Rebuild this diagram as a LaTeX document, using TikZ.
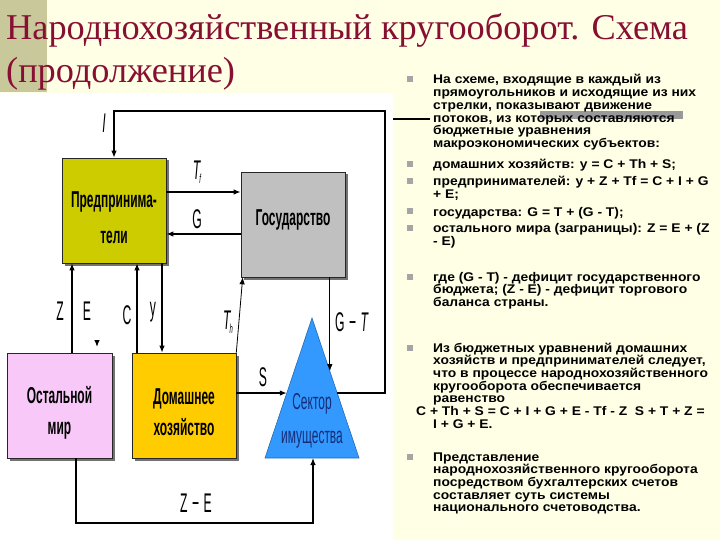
\documentclass[tikz,border=0pt]{standalone}
\usepackage{fontspec}
\setmainfont{Liberation Sans}
\newfontfamily\titlefont{Liberation Serif}
\newfontfamily\boxfont[FakeStretch=0.52]{Liberation Sans}
\newfontfamily\labfont[FakeStretch=0.45]{Liberation Sans}
\newfontfamily\txtfont[FakeStretch=1.1]{Liberation Sans}
\usetikzlibrary{arrows.meta,shadows,calc}
\definecolor{cream}{RGB}{255,255,230}
\definecolor{strip}{RGB}{200,200,155}
\definecolor{titlecol}{RGB}{135,15,50}
\definecolor{firmcol}{RGB}{204,204,0}
\definecolor{statecol}{RGB}{192,192,192}
\definecolor{worldcol}{RGB}{248,200,248}
\definecolor{homecol}{RGB}{255,204,0}
\definecolor{sectorcol}{RGB}{51,153,255}
\definecolor{sectortext}{RGB}{20,45,120}
\definecolor{bulletcol}{RGB}{165,165,165}

\begin{document}
\begin{tikzpicture}[x=1pt,y=-1pt,
    box/.style={draw=black!85,line width=0.6pt,minimum width=104pt,minimum height=105pt,inner sep=0pt,
        general shadow={fill=black!55,shadow xshift=2.5pt,shadow yshift=-2.5pt}},
    boxtext/.style={align=center,inner sep=0pt,font=\boxfont\bfseries\fontsize{23}{31}\selectfont},
    flow/.style={line width=1.2pt,-{Latex[length=7pt,width=5.5pt]}},
    lab/.style={font=\labfont\fontsize{27}{27}\selectfont,inner sep=0pt},
    head/.style={anchor=base west,inner sep=0pt,text=titlecol,font=\titlefont\fontsize{36.3}{36}\selectfont},
    txt/.style={anchor=base west,inner sep=0pt,font=\txtfont\bfseries\fontsize{12.6}{12.7}\selectfont},
    blt/.style={fill=bulletcol,minimum size=6pt,inner sep=0pt}]
\fill[cream] (0,0) rectangle (720,540);
\useasboundingbox (0,0) rectangle (720,540);
\fill[strip] (0,0) rectangle (47,92);
\fill[white] (0,93) rectangle (393,540);

\node[head] (title1) at (6,40) {Народнохозяйственный кругооборот. Схема};
\node[head] (title2) at (6,83) {(продолжение)};

\node[box,fill=firmcol,label={[boxtext,yshift=-7pt,font=\boxfont\bfseries\fontsize{23}{36}\selectfont]center:Предпринима-\\тели}] (firm) at (114,210.5) {};
\node[box,fill=statecol,label={[boxtext,yshift=5pt]center:Государство}] (state) at (293,224.5) {};
\node[box,fill=worldcol,minimum width=105pt,label={[boxtext,yshift=-7pt]center:Остальной\\мир}] (world) at (59.5,405.5) {};
\node[box,fill=homecol,label={[boxtext,yshift=-7pt]center:Домашнее\\хозяйство}] (home) at (184,405.5) {};

\coordinate (apex) at (312,318);
\coordinate (lc) at (265,458);
\coordinate (rc) at (359,458);
\filldraw[fill=sectorcol,draw=sectorcol!70!black,line width=0.6pt] (apex) -- (rc) -- (lc) -- cycle;
\node[boxtext,text=sectortext,font=\boxfont\fontsize{23}{34}\selectfont] (sector) at (312,421) {Сектор\\имущества};

\coordinate (s in) at ($(apex)!0.536!(lc)$);
\coordinate (i out) at ($(apex)!0.536!(rc)$);
\coordinate (gt in) at ($(apex)!0.38!(rc)$);
\coordinate (ne) at (385,111);
\coordinate (ze) at (313,523);
\coordinate (e tip) at (97,347);

\draw[flow] (i out) -| (ne) -| (firm.north);
\draw[flow,line width=2pt] ([yshift=18.5pt]firm.east) -- ([yshift=18.5pt]firm.east -| state.west);
\draw[flow,line width=2pt] ([yshift=-9.5pt]state.west) -- ([yshift=-9.5pt]state.west -| firm.east);
\draw[flow] ([xshift=12.5pt]world.north) -- ([xshift=12.5pt]world.north |- firm.south);
\draw[flow] ([xshift=-47pt]home.north) -- ([xshift=-47pt]home.north |- firm.south);
\draw[flow] ([xshift=48pt]firm.south) -- ([xshift=48pt]firm.south |- home.north);
\draw[flow] ([yshift=7pt]e tip) -- (e tip);
\draw[flow,line width=0.8pt] (home.north east) -- ([xshift=2pt]state.south west);
\draw[flow] (state.south -| gt in) -- (gt in);
\draw[flow] (s in -| home.east) -- (s in);
\draw[flow] ([xshift=16.5pt]world.south) |- (ze) -- (ze |- lc);

\node[lab] (l i) at (104,123) {\itshape I};
\node[lab] (l tf) at (197,172) {\itshape T\kern-1pt\raisebox{-4pt}{\fontsize{13}{13}\selectfont f}};
\node[lab] (l g) at (197,219) {G};
\node[lab] (l z) at (60,311) {Z};
\node[lab] (l e) at (87,311) {E};
\node[lab] (l c) at (127,315) {C};
\node[lab] (l y) at (153,312) {y};
\node[lab] (l th) at (228,322) {\itshape T\kern-1pt\raisebox{-4pt}{\fontsize{13}{13}\selectfont h}};
\node[lab] (l s) at (263,377) {S};
\node[lab] (l gt) at (352,322) {G\,−\,\textit{T}};
\node[lab] (l ze) at (196,503) {Z\,−\,E};

\draw[line width=1.3pt] (393,119) -- (430,119);
\fill[black!40] (540,111) rectangle (683,119);

\foreach \y [count=\k] in {84,169,186,216,233,281,352,461}
    \node[blt] (b\k) at (410,\y-4.5) {};
\foreach \t [count=\i from 0] in {{На схеме, входящие в каждый из},{прямоугольников и исходящие из них},
        {стрелки, показывают движение},{потоков, из которых составляются},{бюджетные уравнения},
        {макроэкономических субъектов:}}
    \node[txt] (pa\i) at (433,84+12.7*\i) {\t};
\node[txt] (pb0) at (433,169) {домашних хозяйств: y = C + Th + S;};
\foreach \t [count=\i from 0] in {{предпринимателей: y + Z + Tf = C + I + G},{+ E;}}
    \node[txt] (pc\i) at (433,186+12.7*\i) {\t};
\node[txt] (pd0) at (433,216) {государства: G = T + (G - T);};
\foreach \t [count=\i from 0] in {{остального мира (заграницы): Z = E + (Z},{- E)}}
    \node[txt] (pe\i) at (433,233+12.7*\i) {\t};
\foreach \t [count=\i from 0] in {{где (G - T) - дефицит государственного},{бюджета; (Z - E) - дефицит торгового},
        {баланса страны.}}
    \node[txt] (pf\i) at (433,281+12.7*\i) {\t};
\foreach \t [count=\i from 0] in {{Из бюджетных уравнений домашних},{хозяйств и предпринимателей следует,},
        {что в процессе народнохозяйственного},{кругооборота обеспечивается},{равенство}}
    \node[txt] (pg\i) at (433,352+12.7*\i) {\t};
\node[txt] (eq1) at (416,415.5) {C + Th + S = C + I + G + E - Tf - Z\ \ S + T + Z =};
\node[txt] (eq2) at (433,428.2) {I + G + E.};
\foreach \t [count=\i from 0] in {{Представление},{народнохозяйственного кругооборота},
        {посредством бухгалтерских счетов},{составляет суть системы},{национального счетоводства.}}
    \node[txt] (ph\i) at (433,461+12.7*\i) {\t};
\end{tikzpicture}
\end{document}
